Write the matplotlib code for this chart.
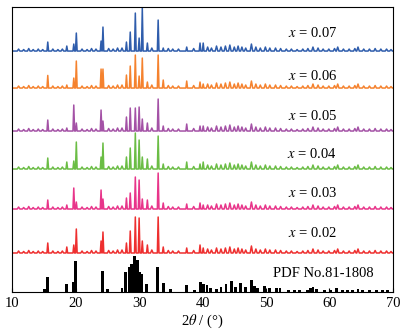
import numpy as np
import matplotlib
matplotlib.use("Agg")
import matplotlib.pyplot as plt

plt.rcParams['font.family'] = ['Liberation Serif', 'DejaVu Serif']
plt.rcParams['mathtext.fontset'] = 'stix'

# main reflections (2theta) shared by all samples
peak_pos = [15.6, 18.6, 19.7, 20.1, 24.0, 24.3, 28.0, 28.6, 29.4, 30.0, 30.5,
            31.3, 33.0, 33.8, 37.5, 39.6, 40.1]

# peak heights per sample (arbitrary units)
h_007 = [9, 5, 7, 18, 10, 24, 9, 19, 38, 13, 43, 8, 31, 3, 4, 8, 8]
h_006 = [12.6, 3, 10, 27, 19, 19, 13, 22, 33, 12, 30, 6, 33, 8, 7, 6, 4]
h_005 = [11, 3, 26, 8, 21, 10, 14, 23, 23, 24, 12, 8, 32, 5, 7, 5, 5]
h_004 = [11, 7, 8, 27, 12, 26, 12, 21, 36, 29, 12, 10, 33, 5, 7, 5, 7]
h_003 = [9, 4, 21, 7, 19, 10, 11, 16, 32, 29, 10, 9, 36, 6, 5, 6, 4]
h_002 = [10, 6, 8, 24, 12, 21, 10, 22, 36, 35, 12, 8, 36, 6, 5, 8, 5]

# weak reflections / background bumps
minor_pos = [11.0, 11.8, 12.6, 13.3, 14.1, 14.8, 16.4, 17.2, 17.9, 21.0, 21.8,
             22.5, 23.2, 25.2, 25.9, 26.6, 27.3, 32.0, 34.6, 35.3, 36.2, 38.6,
             40.8, 41.4, 42.2, 42.9, 43.6, 44.3, 45.0, 45.6, 46.2, 46.8, 47.7,
             48.4, 49.1, 49.9, 50.6, 51.5, 52.3, 53.2, 54.0, 54.9, 55.8, 56.6,
             57.4, 58.2, 59.0, 59.9, 60.8, 61.3, 62.2, 63.1, 64.0, 64.5, 65.4,
             66.3, 67.2, 68.1, 69.0, 69.7]
minor_h = [2, 1.5, 2.5, 1.5, 2, 1.5, 2, 1.5, 2, 2, 1.5, 2.5, 2, 2.5, 2, 3, 3,
           3, 2.5, 2, 2, 2.5, 4, 3, 5, 4, 5, 6, 4, 5, 4, 3, 7, 4, 3, 4, 3, 3,
           2.5, 2, 2, 1.5, 2, 2.5, 4, 3, 2, 2, 2.5, 4, 2, 2, 2.5, 4, 2, 2, 2.5,
           2, 2, 1.5]

# PDF No.81-1808 reference lines
pdf_pos = [15.1, 15.6, 18.5, 19.6, 20.0, 24.2, 25.0, 27.3, 27.9, 28.4, 28.8,
           29.3, 29.7, 30.1, 30.4, 31.2, 32.9, 33.8, 35.0, 37.5, 38.7, 39.7,
           40.2, 40.7, 41.3, 42.2, 42.9, 43.7, 44.6, 45.2, 46.0, 46.7, 47.7,
           48.2, 48.7, 49.8, 50.5, 51.7, 52.2, 53.6, 54.5, 55.3, 56.6, 57.0,
           57.4, 58.0, 59.2, 60.2, 61.1, 62.0, 62.8, 63.6, 64.5, 65.2, 66.3,
           67.4, 68.3, 69.2]
pdf_h = [3, 15, 8, 10, 31, 21, 3, 4, 20, 25, 28, 36, 32, 20, 18, 8, 25, 9, 3,
         7, 2, 10, 8, 7, 4, 3, 5, 8, 11, 5, 9, 5, 12, 6, 4, 6, 4, 4, 4, 1.5,
         1.5, 1.5, 2, 4, 5, 3, 2, 2, 4, 2, 1.5, 2, 3, 2, 2, 1.5, 2, 1.5]

labels = ["$x$ = 0.07", "$x$ = 0.06", "$x$ = 0.05",
          "$x$ = 0.04", "$x$ = 0.03", "$x$ = 0.02"]
heights = [h_007, h_006, h_005, h_004, h_003, h_002]
offsets = [241, 204, 161, 123, 83, 39]
label_dy = [18, 12.5, 15, 15.5, 16, 19.5]
colors = ["#2f5dac", "#f5822e", "#a452a6", "#6bbd45", "#e8358a", "#ee2f2f"]


def trace(pos, h, w):
    pts = sorted(zip(pos, h, w))
    xs, ys = [10.0], [0.0]
    for p, v, hw in pts:
        xs += [p - hw, p, p + hw]
        ys += [0.0, v, 0.0]
    xs.append(70.0)
    ys.append(0.0)
    return np.array(xs), np.array(ys)


widths = [0.13] * len(peak_pos) + [0.2] * len(minor_pos)

fig, ax = plt.subplots(figsize=(4.08, 3.36), dpi=100)
fig.subplots_adjust(left=0.030, right=0.963, bottom=0.131, top=0.979)

for lab, h, off, dy, c in zip(labels, heights, offsets, label_dy, colors):
    x, y = trace(peak_pos + minor_pos, h + minor_h, widths)
    ax.plot(x, y + off, color=c, lw=1.1)
    ax.text(57.3, off + dy, lab, ha='center', va='center', fontsize=10.5)

ax.bar(pdf_pos, pdf_h, width=0.45, color='black')
ax.text(59.1, 18.7, "PDF No.81-1808", ha='center', va='center', fontsize=10.5)

ax.set_xlim(10, 70)
ax.set_ylim(0, 285)
ax.set_yticks([])
ax.set_xticks(range(10, 71, 10))
ax.tick_params(axis='x', direction='in', length=3, labelsize=10.5)
ax.set_xlabel(r"2$\theta$ / (°)", fontsize=10.5, labelpad=2)

plt.savefig("out.png", dpi=100)
